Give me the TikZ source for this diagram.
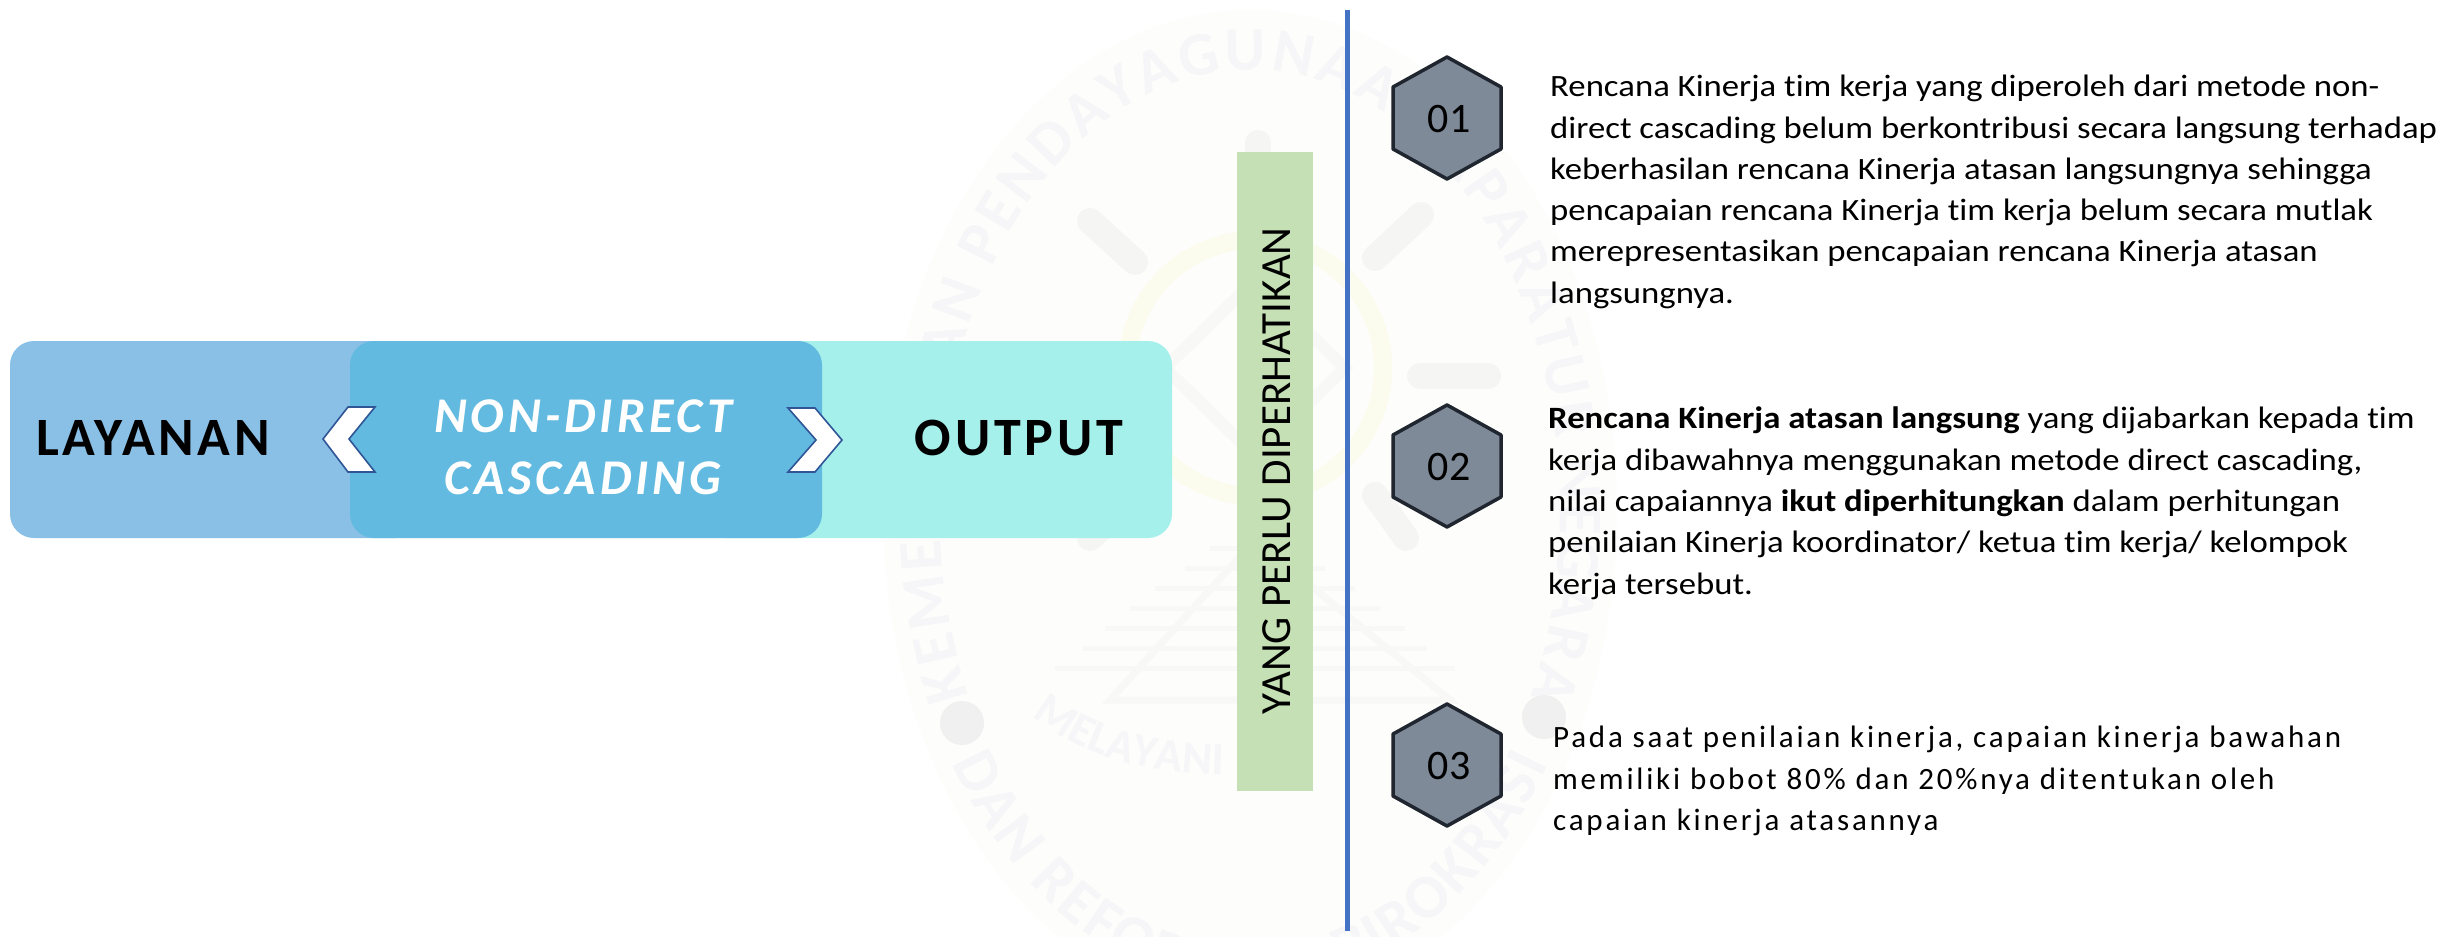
\documentclass[tikz,border=0pt]{standalone}
\usepackage{fontspec}
\setmainfont{Carlito}[FakeStretch=1.12,Ligatures=NoCommon]
\newfontfamily\plainf{Carlito}[Ligatures=NoCommon]
\usetikzlibrary{shapes.geometric,decorations.text}
\definecolor{lefbox}{HTML}{8BC0E6}
\definecolor{midbox}{HTML}{62BAE0}
\definecolor{rigbox}{HTML}{A6F0EC}
\definecolor{grn}{HTML}{C5E0B4}
\definecolor{hexfill}{HTML}{7F8A99}
\definecolor{hexline}{HTML}{20262F}
\definecolor{vline}{HTML}{4472C4}
\definecolor{chev}{HTML}{2F5597}
\definecolor{wmbg}{HTML}{FDFDFB}
\definecolor{wmtext}{HTML}{F6F6F8}
\definecolor{wmgrey}{HTML}{F5F5F3}
\definecolor{wmline}{HTML}{F8F8F6}
\definecolor{wmdot}{HTML}{F0F0F0}
\definecolor{wmyel}{HTML}{FCFCEE}
\tikzset{
  hexa/.style={fill=hexfill,draw=hexline,line width=3.5pt,line join=round},
  hexlabel/.style={font=\plainf\fontsize{42}{44}\selectfont,text=black,inner sep=0pt},
  para/.style={font=\fontsize{31}{41.3}\selectfont,align=left,anchor=north west,inner sep=0pt},
  chevr/.style={fill=white,draw=chev,line width=1.6pt,line join=miter},
  big/.style={font=\plainf\fontsize{54}{60}\selectfont\bfseries,inner sep=0pt},
  wmhandle/.style={draw=wmgrey,line width=26pt,line cap=round},
  wmstripe/.style={draw=wmline,line width=5pt},
}
\begin{document}
\begin{tikzpicture}[x=1pt,y=-1pt]
\useasboundingbox (0,0) rectangle (2458,937);
\fill[white] (0,0) rectangle (2458,937);
% watermark
\begin{scope}
\clip (0,0) rectangle (2458,937);
\fill[wmbg] (1250,510) ellipse[x radius=367,y radius=500];
\path[postaction={decorate},decoration={text along path,text align={fit to path},
  text={|\plainf\fontsize{62}{62}\selectfont\bfseries\color{wmtext}|KEMENTERIAN PENDAYAGUNAAN APARATUR NEGARA}}]
  (1250,510) ++(-205:310 and 440) arc[start angle=-205,end angle=25,x radius=310,y radius=440];
\path[postaction={decorate},decoration={text along path,text align={fit to path},
  text={|\plainf\fontsize{62}{62}\selectfont\bfseries\color{wmtext}|DAN REFORMASI BIROKRASI}}]
  (1250,510) ++(148:352 and 478) arc[start angle=148,end angle=32,x radius=352,y radius=478];
\draw[wmhandle] (1090,221) -- (1135,262);
\draw[wmhandle] (1421,215) -- (1375,258);
\draw[wmhandle] (1258,143) -- (1258,195);
\draw[wmhandle] (1488,376) -- (1420,376);
\draw[wmhandle] (1090,538) -- (1135,495);
\draw[wmhandle] (1406,538) -- (1375,495);
\draw[wmhandle] (1020,372) -- (1090,372);
\draw[wmyel,line width=18pt] (1255,368) circle[radius=128];
\draw[wmline,line width=12pt] (1165,368) -- (1255,280) -- (1345,368) -- (1255,456) -- cycle;
\draw[wmline,line width=7pt] (1255,540) -- (1110,700) -- (1450,700) -- cycle;
\foreach \y/\h in {548/45,568/70,588/100,608/125,628/150,648/172,668/200}
  \draw[wmstripe] (1255-\h,\y) -- (1255+\h,\y);
\fill[wmdot] (962,723) circle[radius=22];
\fill[wmdot] (1544,717) circle[radius=22];
\path[postaction={decorate},decoration={text along path,text align=center,
  text={|\plainf\fontsize{46}{46}\selectfont\bfseries\color{wmtext}|MELAYANI}}]
  (1020,705) .. controls (1080,760) and (1150,775) .. (1240,775);
\end{scope}
% boxes
\fill[lefbox,rounded corners=24pt] (10,341) rectangle (420,538);
\fill[rigbox,rounded corners=24pt] (700,341) rectangle (1172,538);
\fill[midbox,rounded corners=24pt] (350,341) rectangle (822,538);
\node[big] (lay) at (153,438) {\addfontfeature{LetterSpace=7}LAYANAN};
\node[big] (out) at (1019,438) {\addfontfeature{LetterSpace=7}OUTPUT};
\node[big,font=\plainf\fontsize{50}{62}\selectfont\bfseries\itshape,text=white,align=center] (mid) at (583,447) {\addfontfeature{LetterSpace=8}NON-DIRECT\\\addfontfeature{LetterSpace=8}CASCADING};
\draw[chevr] (375,407) -- (348,407) -- (323,439) -- (348,472) -- (375,472) -- (349,439) -- cycle;
\draw[chevr] (788,408) -- (815,408) -- (842,440) -- (815,472) -- (788,472) -- (816,440) -- cycle;
% green
\fill[grn] (1237,152) rectangle (1313,791);
\node[font=\plainf\fontsize{43}{45}\selectfont,rotate=90,inner sep=0pt] (yp) at (1277,471) {YANG PERLU DIPERHATIKAN};
% line
\draw[vline,line width=5pt] (1347,10) -- (1347,931);
% hexagons
\foreach \n/\y/\t in {a/118/01,b/466/02,c/765/03}{
  \draw[hexa] (1447,\y-61) -- (1501,\y-31) -- (1501,\y+31) -- (1447,\y+61) -- (1393,\y+31) -- (1393,\y-31) -- cycle;
  \node[hexlabel] (hex\n) at (1449,\y+1) {\t};
}
\node[para] (p1) at (1550,75) {Rencana Kinerja tim kerja yang diperoleh dari metode non-\\direct cascading belum berkontribusi secara langsung terhadap\\keberhasilan rencana Kinerja atasan langsungnya sehingga\\pencapaian rencana Kinerja tim kerja belum secara mutlak\\merepresentasikan pencapaian rencana Kinerja atasan\\langsungnya.};
\node[para] (p2) at (1548,407) {\textbf{Rencana Kinerja atasan langsung} yang dijabarkan kepada tim\\kerja dibawahnya menggunakan metode direct cascading,\\nilai capaiannya \textbf{ikut diperhitungkan} dalam perhitungan\\penilaian Kinerja koordinator/ ketua tim kerja/ kelompok\\kerja tersebut.};
\node[para,font=\plainf\fontsize{31}{41.3}\selectfont\addfontfeature{LetterSpace=9}] (p3) at (1553,726) {Pada saat penilaian kinerja, capaian kinerja bawahan\\memiliki bobot 80\% dan 20\%nya ditentukan oleh\\capaian kinerja atasannya};
\end{tikzpicture}
\end{document}
